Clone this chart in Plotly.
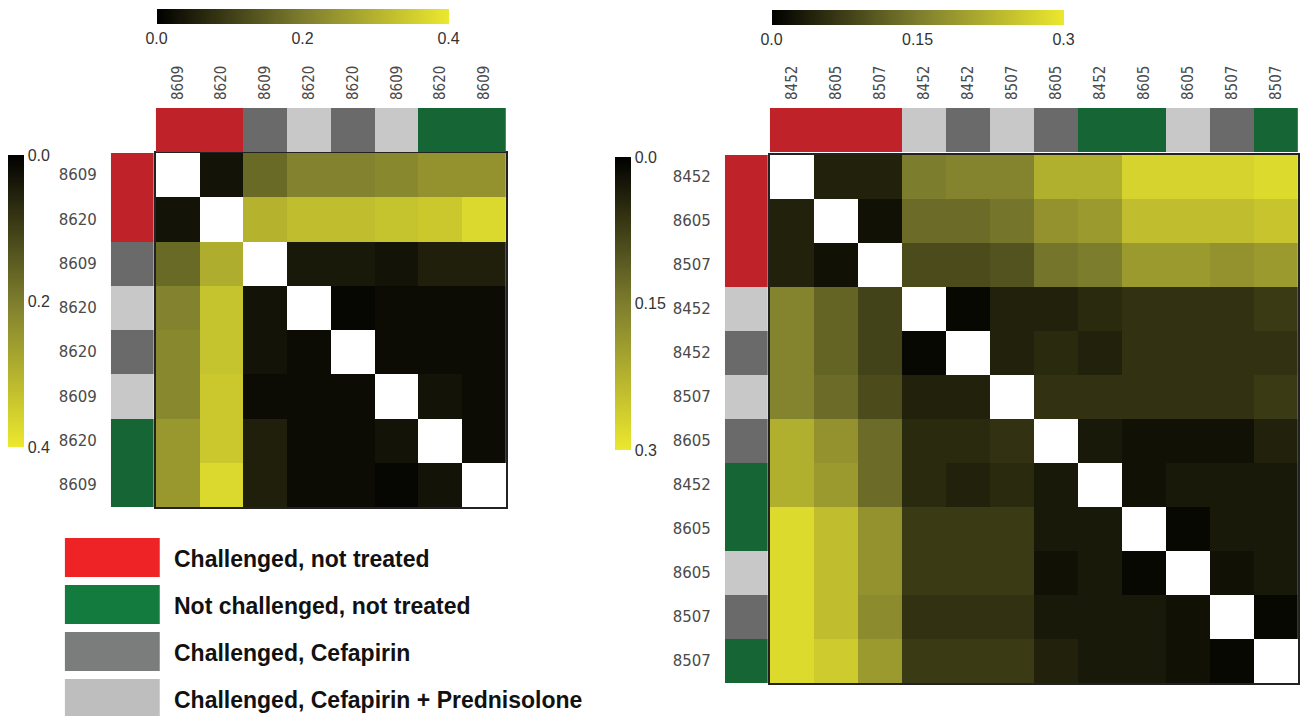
import plotly.graph_objects as go

W, H = 1300, 716

# ---------------- data ----------------
left_labels = ["8609", "8620", "8609", "8620", "8620", "8609", "8620", "8609"]
left_groups = [0, 0, 2, 3, 2, 3, 1, 1]
left_values = [
    [None, 0.03, 0.17, 0.21, 0.21, 0.22, 0.24, 0.24],
    [0.03, None, 0.30, 0.32, 0.32, 0.33, 0.34, 0.37],
    [0.17, 0.29, None, 0.04, 0.04, 0.03, 0.05, 0.05],
    [0.21, 0.33, 0.03, None, 0.01, 0.02, 0.02, 0.02],
    [0.22, 0.33, 0.03, 0.02, None, 0.02, 0.02, 0.02],
    [0.22, 0.34, 0.02, 0.02, 0.02, None, 0.03, 0.02],
    [0.25, 0.34, 0.05, 0.02, 0.02, 0.03, None, 0.02],
    [0.25, 0.37, 0.05, 0.02, 0.02, 0.01, 0.03, None],
]
left_ticks = [0.0, 0.2, 0.4]
left_ticktext = ["0.0", "0.2", "0.4"]

right_labels = ["8452", "8605", "8507", "8452", "8452", "8507",
                "8605", "8452", "8605", "8605", "8507", "8507"]
right_groups = [0, 0, 0, 3, 2, 3, 2, 1, 1, 3, 2, 1]
right_values = [
    [None, 0.04, 0.04, 0.15, 0.16, 0.16, 0.22, 0.22, 0.27, 0.27, 0.27, 0.28],
    [0.04, None, 0.02, 0.13, 0.13, 0.14, 0.18, 0.19, 0.24, 0.24, 0.24, 0.25],
    [0.04, 0.02, None, 0.09, 0.09, 0.10, 0.14, 0.15, 0.19, 0.19, 0.18, 0.19],
    [0.16, 0.12, 0.08, None, 0.01, 0.04, 0.04, 0.05, 0.06, 0.06, 0.06, 0.07],
    [0.16, 0.12, 0.08, 0.01, None, 0.04, 0.05, 0.04, 0.06, 0.06, 0.06, 0.06],
    [0.16, 0.13, 0.09, 0.04, 0.04, None, 0.06, 0.06, 0.06, 0.06, 0.06, 0.07],
    [0.22, 0.18, 0.13, 0.05, 0.05, 0.06, None, 0.03, 0.02, 0.02, 0.02, 0.04],
    [0.22, 0.19, 0.13, 0.05, 0.04, 0.05, 0.03, None, 0.02, 0.03, 0.03, 0.03],
    [0.28, 0.24, 0.18, 0.07, 0.07, 0.07, 0.03, 0.03, None, 0.01, 0.03, 0.03],
    [0.28, 0.24, 0.18, 0.07, 0.07, 0.07, 0.02, 0.03, 0.01, None, 0.02, 0.03],
    [0.28, 0.24, 0.17, 0.06, 0.06, 0.06, 0.03, 0.03, 0.03, 0.02, None, 0.01],
    [0.28, 0.26, 0.19, 0.07, 0.07, 0.07, 0.04, 0.03, 0.03, 0.02, 0.01, None],
]
right_ticks = [0.0, 0.15, 0.3]
right_ticktext = ["0.0", "0.15", "0.3"]

legend_labels = ["Challenged, not treated", "Not challenged, not treated",
                 "Challenged, Cefapirin", "Challenged, Cefapirin + Prednisolone"]

# ---------------- styles ----------------
annot_colors = ["#c0222a", "#156535", "#6a6a6a", "#c8c8c8"]
legend_colors = ["#ee2326", "#147b3f", "#7b7d7c", "#bebebe"]
heat_scale = [[0, "#000000"], [0.5, "#7d7d2e"], [1, "#ece82e"]]
heat_scale_rev = [[0, "#ece82e"], [0.5, "#7d7d2e"], [1, "#000000"]]
group_scale = []
for i, c in enumerate(annot_colors):
    group_scale += [[i / 4, c], [(i + 1) / 4, c]]

ROW_FONT = dict(family="DejaVu Sans", size=15, color="#4a4a4a")
COL_FONT = dict(family="Liberation Sans Narrow, DejaVu Sans Condensed", size=15, color="#4a4a4a")
CB_FONT = dict(family="Liberation Sans, Arial", size=16, color="#333333")


def px_x(x):
    return x / W


def px_y(y):
    return 1 - y / H


fig = go.Figure()


def add_panel(values, labels, groups, zmax, ticks, ticktext, ax_ids,
              grid_px, colbar_px, rowbar_px, topcb_px, leftcb_px):
    n = len(labels)
    idx = list(range(n))
    main, col, row = ax_ids
    gx0, gx1, gy0, gy1 = grid_px
    # main heatmap
    fig.add_trace(go.Heatmap(
        z=values, x=idx, y=idx, zmin=0, zmax=zmax, colorscale=heat_scale,
        xaxis=f"x{main}", yaxis=f"y{main}", hoverinfo="skip", xgap=0, ygap=0,
        colorbar=dict(orientation="h", x=px_x((topcb_px[0] + topcb_px[1]) / 2), xanchor="center",
                      y=px_y(topcb_px[2]), yanchor="top", len=(topcb_px[1] - topcb_px[0]) / W,
                      lenmode="fraction", thickness=15, thicknessmode="pixels",
                      xpad=0, ypad=0, outlinewidth=0, ticks="",
                      tickvals=ticks, ticktext=ticktext, tickfont=CB_FONT),
    ))
    # reversed vertical colour bar (dummy, no visible marks)
    fig.add_trace(go.Scatter(
        x=[None], y=[None], mode="markers", xaxis=f"x{main}", yaxis=f"y{main}",
        showlegend=False, hoverinfo="skip",
        marker=dict(color=[-t for t in ticks], cmin=-zmax, cmax=0,
                    colorscale=heat_scale_rev, showscale=True,
                    colorbar=dict(x=px_x(leftcb_px[0]), xanchor="left",
                                  y=px_y(leftcb_px[1]), yanchor="top",
                                  len=(leftcb_px[2] - leftcb_px[1]) / H, lenmode="fraction",
                                  thickness=16, thicknessmode="pixels", xpad=0, ypad=0,
                                  outlinewidth=0, ticks="",
                                  tickvals=[-t for t in ticks], ticktext=ticktext,
                                  tickfont=CB_FONT)),
    ))
    # column annotation bar
    fig.add_trace(go.Heatmap(
        z=[groups], x=idx, y=[0], zmin=0, zmax=3, colorscale=group_scale, showscale=False,
        xaxis=f"x{col}", yaxis=f"y{col}", hoverinfo="skip",
    ))
    # row annotation bar
    fig.add_trace(go.Heatmap(
        z=[[g] for g in groups], x=[0], y=idx, zmin=0, zmax=3, colorscale=group_scale,
        showscale=False, xaxis=f"x{row}", yaxis=f"y{row}", hoverinfo="skip",
    ))
    rng = [-0.5, n - 0.5]
    hidden = dict(showgrid=False, zeroline=False, showticklabels=False, ticks="")
    fig.update_layout(**{
        f"xaxis{main}": dict(domain=[px_x(gx0), px_x(gx1)], range=rng, anchor=f"y{main}",
                             showline=True, mirror=True, linecolor="#222222", linewidth=1.5, **hidden),
        f"yaxis{main}": dict(domain=[px_y(gy1), px_y(gy0)], range=rng[::-1], anchor=f"x{main}",
                             showline=True, mirror=True, linecolor="#222222", linewidth=1.5, **hidden),
        f"xaxis{col}": dict(domain=[px_x(gx0), px_x(gx1)], range=rng, anchor=f"y{col}", side="top",
                            tickvals=idx, ticktext=labels, tickangle=-90, tickfont=COL_FONT,
                            showgrid=False, zeroline=False, ticks="", ticklabelstandoff=7),
        f"yaxis{col}": dict(domain=[px_y(colbar_px[1]), px_y(colbar_px[0])], range=[-0.5, 0.5],
                            anchor=f"x{col}", **hidden),
        f"xaxis{row}": dict(domain=[px_x(rowbar_px[0]), px_x(rowbar_px[1])], range=[-0.5, 0.5],
                            anchor=f"y{row}", **hidden),
        f"yaxis{row}": dict(domain=[px_y(gy1), px_y(gy0)], range=rng[::-1], anchor=f"x{row}",
                            tickvals=idx, ticktext=labels, tickfont=ROW_FONT,
                            showgrid=False, zeroline=False, ticks="", ticklabelstandoff=13),
    })


add_panel(left_values, left_labels, left_groups, 0.4, left_ticks, left_ticktext,
          ("", 2, 3),
          grid_px=(156, 507, 153, 507), colbar_px=(108, 152), rowbar_px=(111, 154),
          topcb_px=(157, 449, 9), leftcb_px=(8, 155, 447))
add_panel(right_values, right_labels, right_groups, 0.3, right_ticks, right_ticktext,
          (4, 5, 6),
          grid_px=(771, 1300, 155, 683), colbar_px=(108, 152), rowbar_px=(726, 769),
          topcb_px=(773, 1065, 10), leftcb_px=(616, 157, 450))

# legend (boxes + text)
box_tops = [538, 585, 632, 679]
for lab, col, top in zip(legend_labels, legend_colors, box_tops):
    fig.add_shape(type="rect", xref="paper", yref="paper",
                  x0=px_x(65), x1=px_x(160), y0=px_y(top + 39), y1=px_y(top),
                  fillcolor=col, line=dict(width=0), layer="above")
    fig.add_annotation(xref="paper", yref="paper", x=px_x(172), y=px_y(top + 21),
                       xanchor="left", yanchor="middle", showarrow=False,
                       text=f"<b>{lab}</b>",
                       font=dict(family="Liberation Sans, Arial", size=23, color="#111111"))

fig.update_layout(width=W, height=H, margin=dict(l=0, r=0, t=0, b=0),
                  paper_bgcolor="white", plot_bgcolor="white", showlegend=False)

fig.write_html("out.html", config={"displayModeBar": False},
               post_script="document.body.style.margin='0';document.body.style.padding='0';"
                           "document.body.style.overflow='hidden';")
